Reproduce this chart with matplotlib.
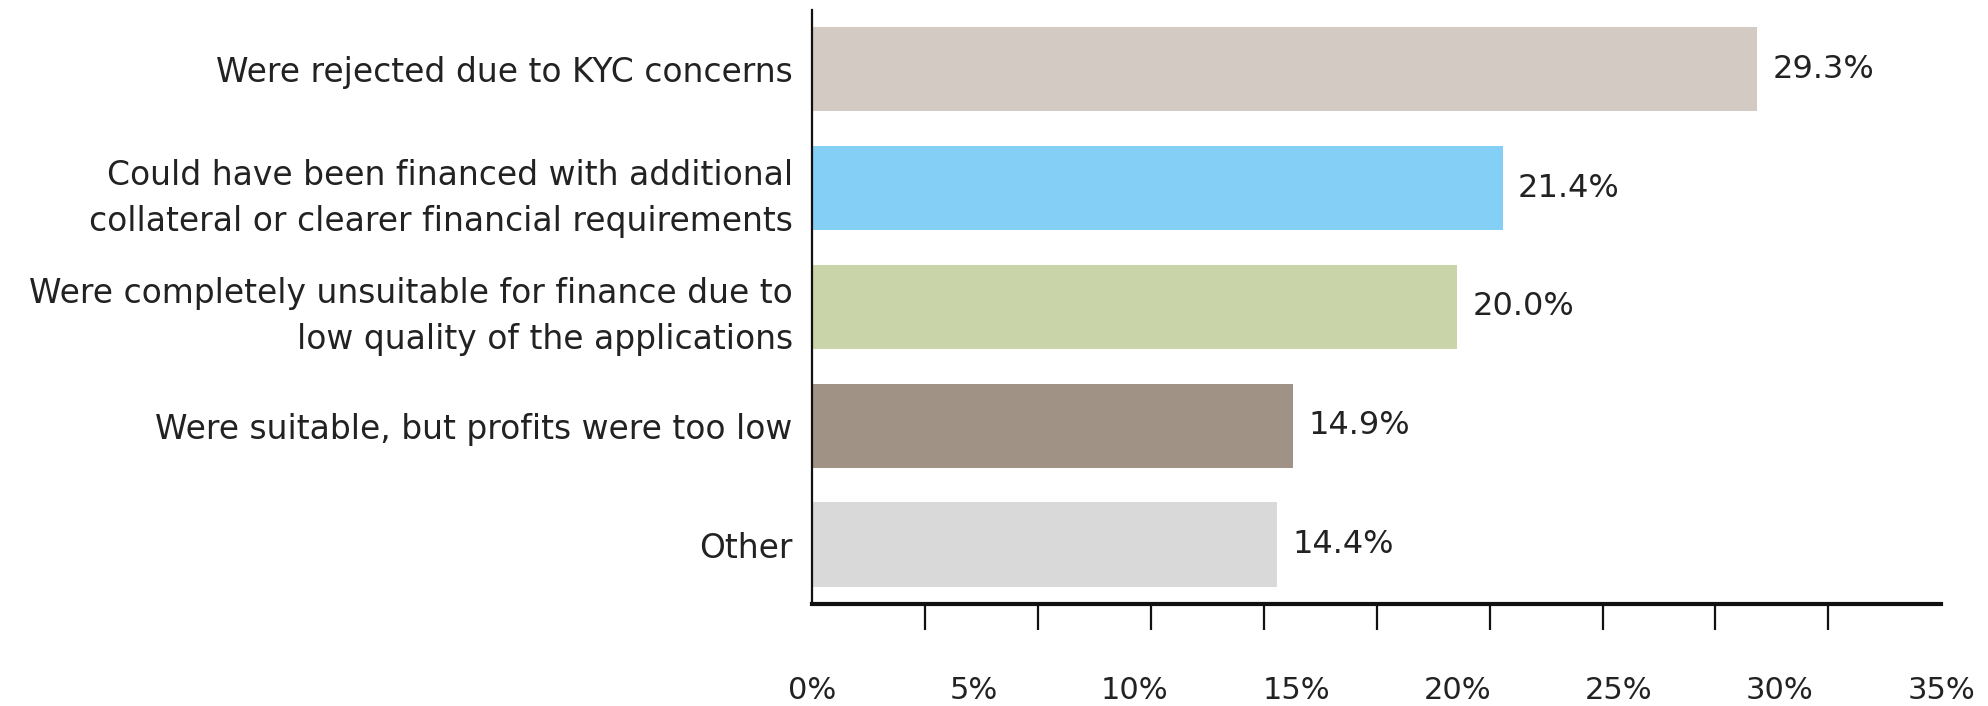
import numpy as np
import matplotlib.pyplot as plt

# reasons for declined applications, top to bottom
categories = [
    "Were rejected due to KYC concerns",
    "Could have been financed with additional\ncollateral or clearer financial requirements",
    "Were completely unsuitable for finance due to\nlow quality of the applications",
    "Were suitable, but profits were too low",
    "Other",
]
shares = [29.3, 21.4, 20.0, 14.9, 14.4]
bar_colors = ["#D3CAC4", "#83CFF5", "#C9D4A8", "#A09386", "#D9D9D9"]
tick_labels = ["0%", "5%", "10%", "15%", "20%", "25%", "30%", "35%"]

plt.rcParams["font.family"] = ["DejaVu Sans"]

fig = plt.figure(figsize=(19.88, 7.06), dpi=100)
ax = fig.add_axes((0.4085, 0.1445, 0.568, 0.8415))

y = np.arange(len(categories))
ax.barh(y, shares, height=0.71, color=bar_colors)

for yi, v in zip(y, shares):
    ax.annotate(f"{v:.1f}%", (v, yi), xytext=(11, 0), textcoords="offset points",
                ha="left", va="center", fontsize=23, color="#222222")

ax.set_xlim(0, 35)
ax.set_ylim(4.5, -0.5)

ax.set_yticks(y)
ax.set_yticklabels(categories, fontsize=23.7, color="#222222", linespacing=1.5,
                   ha="right")
ax.tick_params(axis="y", length=0, pad=14)

# labelled majors every 5%, unlabelled tick marks at 11 even steps
ax.set_xticks(np.arange(0, 36, 5))
ax.set_xticklabels(tick_labels, fontsize=22, color="#222222")
ax.set_xticks(np.linspace(0, 35, 11), minor=True)
ax.tick_params(axis="x", which="major", length=0, pad=52)
ax.tick_params(axis="x", which="minor", length=19, width=1.6, color="#111111")

for side in ["top", "right"]:
    ax.spines[side].set_visible(False)
ax.spines["left"].set_linewidth(1.6)
ax.spines["bottom"].set_linewidth(3)
ax.spines["left"].set_color("#111111")
ax.spines["bottom"].set_color("#111111")

fig.savefig("out.png", dpi=100)
